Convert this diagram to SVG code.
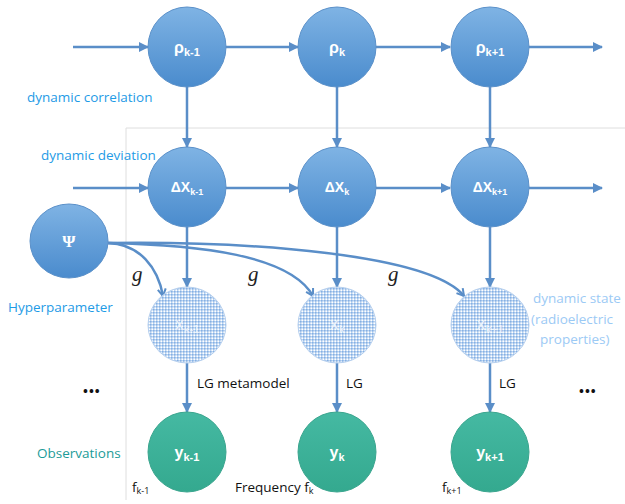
<svg xmlns="http://www.w3.org/2000/svg" width="625" height="504" viewBox="0 0 625 504">
<defs>
<linearGradient id="gb" x1="0" y1="0" x2="0" y2="1">
<stop offset="0" stop-color="#7fb3e4"/>
<stop offset="1" stop-color="#4a8bcd"/>
</linearGradient>
<linearGradient id="gt" x1="0" y1="0" x2="0" y2="1">
<stop offset="0" stop-color="#45b9a2"/>
<stop offset="1" stop-color="#34a98f"/>
</linearGradient>
<pattern id="chk" width="3" height="3" patternUnits="userSpaceOnUse">
<rect width="3" height="3" fill="#b9d3f1"/>
<rect width="1.5" height="1.5" fill="#85b0e3"/>
<rect x="1.5" y="1.5" width="1.5" height="1.5" fill="#ffffff"/>
</pattern>
<marker id="ah" viewBox="0 0 10 10" refX="9" refY="5" markerWidth="4" markerHeight="4" orient="auto">
<path d="M0,0 L10,5 L0,10 z" fill="#5a8ec8"/>
</marker>
<marker id="ao" viewBox="0 0 10 10" refX="8" refY="5" markerWidth="4" markerHeight="4" orient="auto">
<path d="M1,1 L8,5 L1,9" fill="none" stroke="#5a8ec8" stroke-width="2"/>
</marker>
</defs>
<style>
.b{fill:url(#gb);stroke:#5a90c9;stroke-width:1}
.t{fill:url(#gt);stroke:#3aa58e;stroke-width:1}
.s{fill:url(#chk);stroke:#b7d0ee;stroke-width:1}
.e{fill:none;stroke:#5a8ec8;stroke-width:2.5;marker-end:url(#ah)}
.c{fill:none;stroke:#5a8ec8;stroke-width:2.5;marker-end:url(#ao)}
.w{font-family:"Liberation Sans",Arial,sans-serif;fill:#ffffff;font-size:16px;text-anchor:middle;font-weight:bold}
.sub{font-size:11px}
.lbl{font-family:"Open Sans","Liberation Sans",sans-serif;font-size:13.5px}
.blk{font-family:"Open Sans","Liberation Sans",sans-serif;font-size:13.5px;fill:#111}
.g{font-family:"Liberation Serif",serif;font-style:italic;font-size:21px;fill:#222}
</style>
<path d="M126,500 L126,128 L625,128" fill="none" stroke="#dedede" stroke-width="1"/>
<g id="connectors">
<path class="e" d="M73,47 L148,47"/>
<path class="e" d="M226,47 L298,47"/>
<path class="e" d="M376,47 L450,47"/>
<path class="e" d="M529,47 L602,47"/>
<path class="e" d="M73,188 L148,188"/>
<path class="e" d="M226,188 L298,188"/>
<path class="e" d="M376,188 L450,188"/>
<path class="e" d="M529,188 L602,188"/>
<path class="e" d="M187,86 L187,147"/>
<path class="e" d="M337,86 L337,147"/>
<path class="e" d="M490,86 L490,147"/>
<path class="e" d="M187,227 L187,287"/>
<path class="e" d="M337,227 L337,287"/>
<path class="e" d="M490,227 L490,287"/>
<path class="e" d="M187,363 L187,412"/>
<path class="e" d="M337,363 L337,412"/>
<path class="e" d="M490,363 L490,412"/>
<path class="c" d="M108,243 C140,244 158,268 163,296"/>
<path class="c" d="M108,243 C200,245 290,255 313,296"/>
<path class="c" d="M108,243 C250,241 430,254 464,296"/>
</g>
<g id="rho1"><ellipse class="b" cx="187" cy="47" rx="39" ry="40"/><text class="w" x="187" y="53">ρ<tspan class="sub" dy="3">k-1</tspan></text></g>
<g id="rho2"><ellipse class="b" cx="337" cy="47" rx="39" ry="40"/><text class="w" x="337" y="53">ρ<tspan class="sub" dy="3">k</tspan></text></g>
<g id="rho3"><ellipse class="b" cx="490" cy="47" rx="39" ry="40"/><text class="w" x="490" y="53">ρ<tspan class="sub" dy="3">k+1</tspan></text></g>
<g id="dx1"><ellipse class="b" cx="187" cy="187" rx="39" ry="40"/><text class="w" x="187" y="192" style="font-size:14px">ΔX<tspan class="sub" style="font-size:9px" dy="3">k-1</tspan></text></g>
<g id="dx2"><ellipse class="b" cx="337" cy="187" rx="39" ry="40"/><text class="w" x="337" y="192" style="font-size:14px">ΔX<tspan class="sub" style="font-size:9px" dy="3">k</tspan></text></g>
<g id="dx3"><ellipse class="b" cx="490" cy="187" rx="39" ry="40"/><text class="w" x="490" y="192" style="font-size:14px">ΔX<tspan class="sub" style="font-size:9px" dy="3">k+1</tspan></text></g>
<g id="psi"><ellipse class="b" cx="69" cy="241" rx="39" ry="37"/><text class="w" x="69" y="247" style="font-family:'Liberation Serif',serif;font-size:17px">Ψ</text></g>
<g id="x1"><ellipse class="s" cx="187" cy="325" rx="39" ry="38"/><text class="w" x="187" y="330" style="fill:#eef5fd;font-size:14px;font-weight:normal">X<tspan class="sub" dy="3">k-1</tspan></text></g>
<g id="x2"><ellipse class="s" cx="337" cy="325" rx="39" ry="38"/><text class="w" x="337" y="330" style="fill:#eef5fd;font-size:14px;font-weight:normal">X<tspan class="sub" dy="3">k</tspan></text></g>
<g id="x3"><ellipse class="s" cx="490" cy="325" rx="39" ry="38"/><text class="w" x="490" y="330" style="fill:#eef5fd;font-size:14px;font-weight:normal">X<tspan class="sub" dy="3">k+1</tspan></text></g>
<g id="y1"><ellipse class="t" cx="187" cy="452" rx="39" ry="40"/><text class="w" x="187" y="458">y<tspan class="sub" dy="3">k-1</tspan></text></g>
<g id="y2"><ellipse class="t" cx="337" cy="452" rx="39" ry="40"/><text class="w" x="337" y="458">y<tspan class="sub" dy="3">k</tspan></text></g>
<g id="y3"><ellipse class="t" cx="490" cy="452" rx="39" ry="40"/><text class="w" x="490" y="458">y<tspan class="sub" dy="3">k+1</tspan></text></g>
<g id="labels">
<text class="lbl" x="27" y="102" fill="#1e9be6">dynamic correlation</text>
<text class="lbl" x="41" y="160" fill="#1e9be6">dynamic deviation</text>
<text class="lbl" x="8" y="312" fill="#1e9be6">Hyperparameter</text>
<text class="lbl" x="533" y="303" fill="#9ccaf5">dynamic state</text>
<text class="lbl" x="531" y="324" fill="#9ccaf5">(radioelectric</text>
<text class="lbl" x="540" y="344" fill="#9ccaf5">properties)</text>
<text class="lbl" x="37" y="458" fill="#1c9b98">Observations</text>
<text class="blk" x="197" y="388">LG metamodel</text>
<text class="blk" x="346" y="388">LG</text>
<text class="blk" x="499" y="388">LG</text>
<text class="blk" x="83" y="396" style="font-size:13px;font-weight:bold;letter-spacing:1px">•••</text>
<text class="blk" x="579" y="396" style="font-size:13px;font-weight:bold;letter-spacing:1px">•••</text>
<text class="blk" x="132" y="492">f<tspan style="font-size:9px" dy="2">k-1</tspan></text>
<text class="blk" x="235" y="492">Frequency f<tspan style="font-size:9px" dy="2">k</tspan></text>
<text class="blk" x="442" y="492">f<tspan style="font-size:9px" dy="2">k+1</tspan></text>
<text class="g" x="132" y="281">g</text>
<text class="g" x="248" y="281">g</text>
<text class="g" x="388" y="281">g</text>
</g>
</svg>
